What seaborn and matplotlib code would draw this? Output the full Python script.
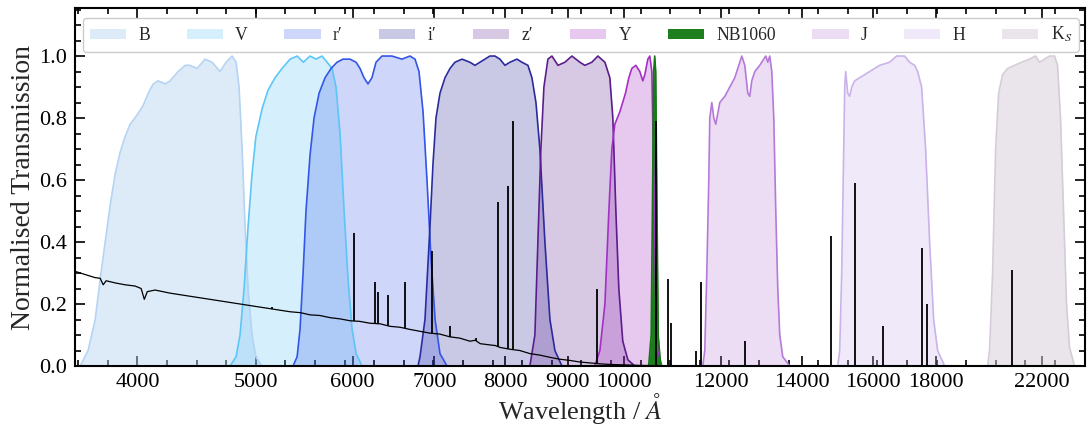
import numpy as np
import matplotlib
matplotlib.use("Agg")
import matplotlib.pyplot as plt
import seaborn as sns
from matplotlib.ticker import FixedLocator, FixedFormatter, NullFormatter, MultipleLocator

# ---------------- data (wavelength in Angstrom, normalised transmission) ----------------
bands = ["B", "V", "r\u2032", "i\u2032", "z\u2032", "Y", "NB1060", "J", "H", "K$_S$"]

B_wl = [3591, 3645, 3694, 3729, 3764, 3800, 3836, 3872, 3908, 3945, 3998, 4043, 4082, 4121,
        4160, 4215, 4254, 4319, 4376, 4417, 4476, 4544, 4604, 4674, 4727, 4781, 4817, 4844,
        4872, 4899, 4927, 4964, 5000, 5057]
B_tr = [0.00, 0.05, 0.15, 0.28, 0.40, 0.52, 0.62, 0.69, 0.74, 0.78, 0.81, 0.84, 0.88, 0.91,
        0.92, 0.91, 0.92, 0.95, 0.97, 0.97, 0.96, 0.99, 0.98, 0.95, 0.98, 1.00, 0.98, 0.90,
        0.70, 0.45, 0.25, 0.10, 0.03, 0.00]

V_wl = [4763, 4817, 4853, 4890, 4927, 4964, 5000, 5059, 5116, 5184, 5253, 5333, 5405, 5468,
        5537, 5600, 5663, 5718, 5772, 5815, 5859, 5904, 5948, 5993, 6039, 6107]
V_tr = [0.00, 0.03, 0.10, 0.25, 0.45, 0.62, 0.74, 0.83, 0.89, 0.93, 0.96, 0.99, 1.00, 0.98,
        1.00, 0.99, 1.00, 0.98, 0.96, 0.90, 0.75, 0.50, 0.28, 0.12, 0.04, 0.00]

r_wl = [5363, 5404, 5434, 5465, 5495, 5537, 5579, 5632, 5696, 5761, 5826, 5892, 5970, 6039,
        6084, 6130, 6176, 6222, 6270, 6341, 6461, 6585, 6684, 6748, 6799, 6851, 6902, 6954,
        7008, 7073, 7167]
r_tr = [0.00, 0.03, 0.12, 0.30, 0.50, 0.68, 0.80, 0.88, 0.93, 0.96, 0.98, 0.99, 0.99, 0.98,
        0.96, 0.93, 0.91, 0.93, 0.98, 1.00, 1.00, 0.99, 1.00, 0.99, 0.95, 0.82, 0.60, 0.35,
        0.15, 0.04, 0.00]

i_wl = [6786, 6812, 6876, 6941, 6980, 7020, 7073, 7140, 7208, 7276, 7373, 7484, 7555, 7626,
        7771, 7845, 7919, 7994, 8070, 8177, 8254, 8348, 8411, 8475, 8538, 8619, 8701, 8783, 8900]
i_tr = [0.00, 0.03, 0.15, 0.45, 0.65, 0.80, 0.88, 0.93, 0.96, 0.98, 0.99, 0.98, 0.97, 0.98,
        1.00, 1.00, 0.99, 0.97, 0.98, 0.99, 0.98, 0.97, 0.93, 0.85, 0.70, 0.40, 0.15, 0.05, 0.00]

z_wl = [8379, 8458, 8506, 8554, 8603, 8668, 8734, 8834, 8950, 9069, 9206, 9293, 9416, 9524,
        9651, 9741, 9796, 9852, 9907, 9981, 10077, 10211]
z_tr = [0.00, 0.10, 0.40, 0.70, 0.90, 0.99, 1.00, 0.97, 0.98, 1.00, 0.98, 0.97, 0.98, 1.00,
        0.98, 0.93, 0.80, 0.50, 0.25, 0.08, 0.02, 0.00]

Y_wl = [9469, 9560, 9651, 9723, 9778, 9833, 9926, 10032, 10096, 10153, 10230, 10307, 10365,
        10405, 10464, 10503, 10543, 10583, 10623, 10663, 10743]
Y_tr = [0.00, 0.05, 0.20, 0.50, 0.70, 0.78, 0.82, 0.88, 0.93, 0.96, 0.97, 0.95, 0.92, 0.94,
        0.99, 1.00, 0.95, 0.60, 0.20, 0.05, 0.00]

NB_wl = [10480, 10530, 10560, 10580, 10600, 10620, 10640, 10670, 10720]
NB_tr = [0.00, 0.10, 0.60, 0.95, 1.00, 0.95, 0.60, 0.10, 0.00]

J_wl = [11605, 11649, 11693, 11737, 11759, 11804, 11849, 11893, 11983, 12097, 12211, 12327,
        12443, 12490, 12561, 12632, 12679, 12727, 12800, 12920, 13018, 13067, 13117, 13166,
        13216, 13266, 13316, 13366, 13416, 13492, 13671]
J_tr = [0.00, 0.05, 0.30, 0.60, 0.80, 0.85, 0.80, 0.78, 0.85, 0.87, 0.90, 0.93, 0.98, 1.00,
        0.97, 0.88, 0.87, 0.92, 0.95, 0.97, 0.99, 1.00, 0.98, 1.00, 0.95, 0.80, 0.50, 0.25,
        0.10, 0.03, 0.00]

H_wl = [14964, 15020, 15077, 15134, 15163, 15191, 15249, 15306, 15364, 15451, 15597, 15744,
        15893, 16195, 16503, 16721, 16975, 17136, 17298, 17397, 17527, 17660, 17794, 17929,
        18064, 18303]
H_tr = [0.00, 0.05, 0.30, 0.70, 0.90, 0.95, 0.88, 0.87, 0.90, 0.92, 0.93, 0.94, 0.95, 0.97,
        0.98, 1.00, 1.00, 0.98, 0.97, 0.95, 0.90, 0.70, 0.40, 0.15, 0.05, 0.00]

K_wl = [19846, 19921, 20035, 20149, 20264, 20415, 20608, 20882, 21158, 21480, 21724, 21888,
        22095, 22304, 22515, 22643, 22771, 22900, 23030, 23160, 23379]
K_tr = [0.00, 0.05, 0.30, 0.70, 0.88, 0.94, 0.96, 0.97, 0.98, 0.99, 1.00, 0.98, 0.99, 1.00,
        1.00, 0.97, 0.80, 0.50, 0.20, 0.06, 0.00]

# galaxy spectrum: continuum (with its visible wiggles) and emission lines
spec_wl = [3546, 3625, 3694, 3729, 3750, 3771, 3836, 3908, 3982, 4028, 4052, 4075, 4136, 4254,
           4417, 4587, 4763, 4945, 5135, 5333, 5440, 5537, 5640, 5750, 5860, 5970, 6080, 6199,
           6320, 6437, 6560, 6684, 6810, 6941, 7070, 7208, 7340, 7484, 7560, 7630, 7771, 7850,
           7920, 8070, 8220, 8379, 8540, 8701, 8860, 9035, 9200, 9381, 9560, 9741, 10307,
           11114, 13931, 23800]
spec_fl = [0.307, 0.295, 0.285, 0.283, 0.262, 0.275, 0.268, 0.262, 0.258, 0.250, 0.215, 0.240,
           0.245, 0.235, 0.225, 0.215, 0.205, 0.195, 0.185, 0.175, 0.172, 0.165, 0.163, 0.156,
           0.152, 0.146, 0.144, 0.138, 0.136, 0.128, 0.125, 0.118, 0.112, 0.106, 0.103, 0.094,
           0.090, 0.080, 0.083, 0.072, 0.068, 0.066, 0.060, 0.054, 0.050, 0.040, 0.035, 0.028,
           0.022, 0.018, 0.013, 0.010, 0.007, 0.005, 0.002, 0.000, 0.000, 0.000]
line_wl = [5152, 6019, 6258, 6293, 6413, 6622, 6967, 7208, 7569, 7889, 8040, 8117, 9506,
           10623, 10865, 10927, 11452, 11562, 12561, 14767, 15451, 16286, 17527, 17693, 20763]
line_pk = [0.19, 0.43, 0.27, 0.24, 0.23, 0.27, 0.37, 0.13, 0.09, 0.53, 0.58, 0.79, 0.25,
           0.79, 0.28, 0.14, 0.05, 0.27, 0.08, 0.42, 0.59, 0.13, 0.38, 0.20, 0.31]

x_major = [4000, 5000, 6000, 7000, 8000, 9000, 10000, 12000, 14000, 16000, 18000, 22000]
x_labels = ["4000", "5000", "6000", "7000", "8000", "9000", "10000", "12000", "14000",
            "16000", "18000", "22000"]

# ---------------- styling ----------------
line_colors = ["#b5d3f2", "#5bc6f7", "#3355e8", "#2b2b9e", "#5b1d8c", "#a32fc4",
               "#127812", "#b57ad9", "#c9b3ea", "#d6ccd9"]
fill_alpha = [0.45, 0.25, 0.24, 0.25, 0.24, 0.26, 0.95, 0.25, 0.28, 0.5]

sns.set_theme(style="ticks")
plt.rcParams["font.family"] = ["Liberation Serif", "DejaVu Serif"]
plt.rcParams["mathtext.fontset"] = "stix"

fig = plt.figure(figsize=(10.87, 4.28), dpi=100)
ax = fig.add_axes([75 / 1087, 62 / 428, 1010 / 1087, 358 / 428])

curves = [(B_wl, B_tr), (V_wl, V_tr), (r_wl, r_tr), (i_wl, i_tr), (z_wl, z_tr), (Y_wl, Y_tr),
          (NB_wl, NB_tr), (J_wl, J_tr), (H_wl, H_tr), (K_wl, K_tr)]
for name, (wl, tr), col, a in zip(bands, curves, line_colors, fill_alpha):
    ax.fill_between(wl, 0, tr, color=col, alpha=a, lw=0, label=name, zorder=1)
    sns.lineplot(x=wl, y=tr, ax=ax, color=col, lw=1.2, sort=False, estimator=None, zorder=2)

sns.lineplot(x=spec_wl, y=spec_fl, ax=ax, color="black", lw=0.9, sort=False, estimator=None,
             zorder=4)
base = np.interp(line_wl, spec_wl, spec_fl)
ax.vlines(line_wl, base, line_pk, color="black", lw=1.3, zorder=4)

ax.set_xscale("log")
ax.set_xlim(3556, 23845)
ax.set_ylim(0, 1.155)
ax.xaxis.set_major_locator(FixedLocator(x_major))
ax.xaxis.set_major_formatter(FixedFormatter(x_labels))
step = 0.02422
ax.xaxis.set_minor_locator(FixedLocator([4000 * 10 ** (k * step) for k in range(-2, 33)]))
ax.xaxis.set_minor_formatter(NullFormatter())
ax.yaxis.set_major_locator(MultipleLocator(0.2))
ax.yaxis.set_minor_locator(MultipleLocator(0.05))
ax.yaxis.set_major_formatter(matplotlib.ticker.FormatStrFormatter("%.1f"))

ax.tick_params(which="both", direction="in", top=True, right=True, width=1.2, colors="black")
ax.tick_params(which="major", length=7, labelsize=16, pad=6)
ax.tick_params(axis="x", which="major", pad=5)
ax.tick_params(which="minor", length=4)
for s in ax.spines.values():
    s.set_linewidth(1.5)
    s.set_color("black")

ax.set_xlabel(r"Wavelength / $\AA$", fontsize=19, labelpad=-0.5)
ax.set_ylabel("Normalised Transmission", fontsize=20, labelpad=2)

leg = ax.legend(loc="upper left", bbox_to_anchor=(0.0076, 0.972, 0.9864, 0), mode="expand",
                ncol=10, borderaxespad=0, fontsize=12.7, handlelength=2.05, handleheight=0.5,
                handletextpad=0.7, fancybox=True, framealpha=1, edgecolor="#cccccc")
leg.set_zorder(10)

fig.savefig("out.png", dpi=100)
